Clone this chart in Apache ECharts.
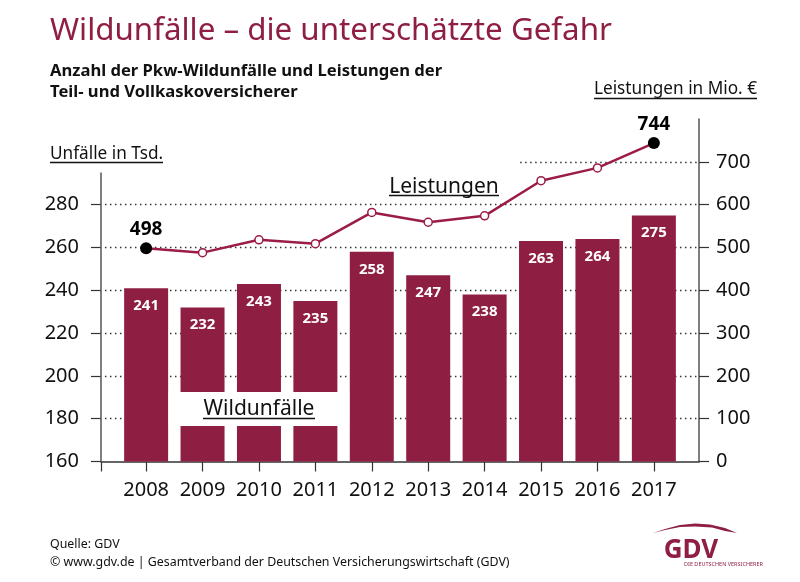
<!DOCTYPE html>
<html>
<head>
<meta charset="utf-8">
<title>Wildunfälle</title>
<style>
html, body { margin: 0; padding: 0; background: #fff; }
#chart { width: 800px; height: 582px; }
</style>
<script src="https://cdn.jsdelivr.net/npm/echarts@6/dist/echarts.min.js"></script>
</head>
<body>
<div id="chart"></div>
<script>
var years = [2008, 2009, 2010, 2011, 2012, 2013, 2014, 2015, 2016, 2017];
var unfaelle = [241, 232, 243, 235, 258, 247, 238, 263, 264, 275];
var leistungen = [498, 488, 518, 509, 582, 559, 574, 656, 686, 744];
var leftTicks = [160, 180, 200, 220, 240, 260, 280];
var rightTicks = [0, 100, 200, 300, 400, 500, 600, 700];
var highlighted = [2008, 2017];

var wine = '#8e1f43';
var lineWine = '#9b1c47';
var axisGrey = '#555';
var font = '"Noto Sans", sans-serif';
var xMin = 2007.2, xMax = 2017.8;

function label(x, y, text, size, opts) {
    opts = opts || {};
    return {
        type: 'text', x: x, y: y, z: opts.z || 10,
        style: {
            text: text, fontFamily: font, fontSize: size,
            fontWeight: opts.weight || 'normal',
            fill: opts.fill || '#111',
            align: opts.align || 'left',
            verticalAlign: 'middle'
        }
    };
}
function rule(x1, x2, y) {
    return {
        type: 'line', z: 10,
        shape: { x1: x1, y1: y, x2: x2, y2: y },
        style: { stroke: '#111', lineWidth: 1.4 }
    };
}

var chart = echarts.init(document.getElementById('chart'));

// dotted guides sit behind the bars, 700 only runs from 2015 on
var guides = leftTicks.slice(1).map(function (v) {
    return [{ coord: [xMin + 0.07, v] }, { coord: [xMax, v] }];
});
guides.push([
    { coord: [xMin, 160], lineStyle: { type: 'solid', color: axisGrey, width: 1.5 } },
    { coord: [xMin, 295] }
]);

chart.setOption({
    animation: false,
    backgroundColor: '#fff',
    grid: { left: 101, right: 101, top: 119.1, bottom: 120.5 },
    xAxis: {
        type: 'value', min: xMin, max: xMax,
        splitLine: { show: false },
        axisLine: { show: true, lineStyle: { color: '#333', width: 1.5 } },
        axisTick: {
            show: true, length: 10, lineStyle: { color: '#333', width: 1.2 },
            customValues: [xMin].concat(years)
        },
        axisLabel: {
            customValues: years, margin: 19,
            fontFamily: font, fontSize: 20, color: '#111',
            formatter: function (v) { return String(v); }
        }
    },
    yAxis: [{
        type: 'value', min: 160, max: 320,
        splitLine: { show: false },
        axisLine: { show: false },
        axisTick: { show: true, length: 10, lineStyle: { color: '#333', width: 1.2 }, customValues: leftTicks },
        axisLabel: { customValues: leftTicks, margin: 22, fontFamily: font, fontSize: 20, color: '#111' }
    }, {
        type: 'value', min: 0, max: 800, position: 'right',
        splitLine: { show: false },
        axisLine: { show: true, lineStyle: { color: axisGrey, width: 1.5 } },
        axisTick: { show: true, length: 10, lineStyle: { color: '#333', width: 1.2 }, customValues: rightTicks },
        axisLabel: { customValues: rightTicks, margin: 17, fontFamily: font, fontSize: 20, color: '#111' }
    }],
    series: [{
        name: 'Wildunfälle',
        type: 'bar',
        barWidth: 44,
        z: 2,
        itemStyle: { color: wine },
        data: years.map(function (y, i) { return [y, unfaelle[i]]; }),
        label: {
            show: true, position: 'insideTop', distance: 10,
            color: '#fff', fontFamily: font, fontWeight: 'bold', fontSize: 15,
            formatter: function (p) { return p.value[1]; }
        },
        markLine: {
            silent: true, symbol: 'none', z: 1,
            label: { show: false },
            lineStyle: { type: [1.5, 3.5], color: '#333', width: 1.3 },
            data: guides
        },
        markArea: {
            silent: true, z: 3,
            itemStyle: { color: '#fff' },
            data: [[{ coord: [2008.4, 192.5] }, { coord: [2011.6, 176.6] }]]
        }
    }, {
        name: 'Leistungen',
        type: 'line',
        yAxisIndex: 1,
        z: 4,
        symbol: 'circle',
        symbolSize: 8,
        lineStyle: { color: lineWine, width: 2.5 },
        itemStyle: { color: '#fff', borderColor: lineWine, borderWidth: 1.5 },
        data: years.map(function (y, i) {
            var big = highlighted.indexOf(y) >= 0;
            var point = {
                value: [y, leistungen[i]],
                symbolSize: big ? 12 : 8,
                label: {
                    show: big, position: 'top', distance: 3,
                    formatter: String(leistungen[i]),
                    color: '#000', fontFamily: font, fontWeight: 'bold', fontSize: 19
                }
            };
            if (big) point.itemStyle = { color: '#000', borderColor: '#000', borderWidth: 0 };
            return point;
        }),
        markLine: {
            silent: true, symbol: 'none', z: 1,
            label: { show: false },
            lineStyle: { type: [1.5, 3.5], color: '#333', width: 1.3 },
            data: [[{ coord: [2014.63, 700] }, { coord: [xMax, 700] }]]
        }
    }],
    graphic: [
        label(50, 31, 'Wildunfälle – die unterschätzte Gefahr', 31.3, { fill: wine }),
        label(50, 71, 'Anzahl der Pkw-Wildunfälle und Leistungen der', 16.6, { weight: 'bold' }),
        label(50, 92, 'Teil- und Vollkaskoversicherer', 16.6, { weight: 'bold' }),
        label(757, 89, 'Leistungen in Mio. €', 17.2, { align: 'right' }),
        rule(594, 757, 98.5),
        label(50, 154, 'Unfälle in Tsd.', 17.2),
        rule(50, 163, 162.5),
        label(444, 187, 'Leistungen', 21, { align: 'center' }),
        rule(389, 499, 195.5),
        label(259, 409, 'Wildunfälle', 21, { align: 'center' }),
        rule(203, 315, 418.5),
        label(50, 544, 'Quelle: GDV', 12.4),
        label(50, 562, '© www.gdv.de | Gesamtverband der Deutschen Versicherungswirtschaft (GDV)', 12.4),
        {
            type: 'polygon', z: 10,
            shape: { points: [[653, 533], [665, 529], [680, 525], [695, 523.5], [710, 524.5], [725, 528], [737, 533], [725, 531], [712, 527.5], [695, 526.5], [680, 527], [665, 530]] },
            style: { fill: wine }
        },
        label(691, 551, 'GDV', 26, { fill: wine, align: 'center', weight: 'bold' }),
        label(684, 564, 'DIE DEUTSCHEN VERSICHERER', 5.5, { fill: wine })
    ]
});
</script>
</body>
</html>
